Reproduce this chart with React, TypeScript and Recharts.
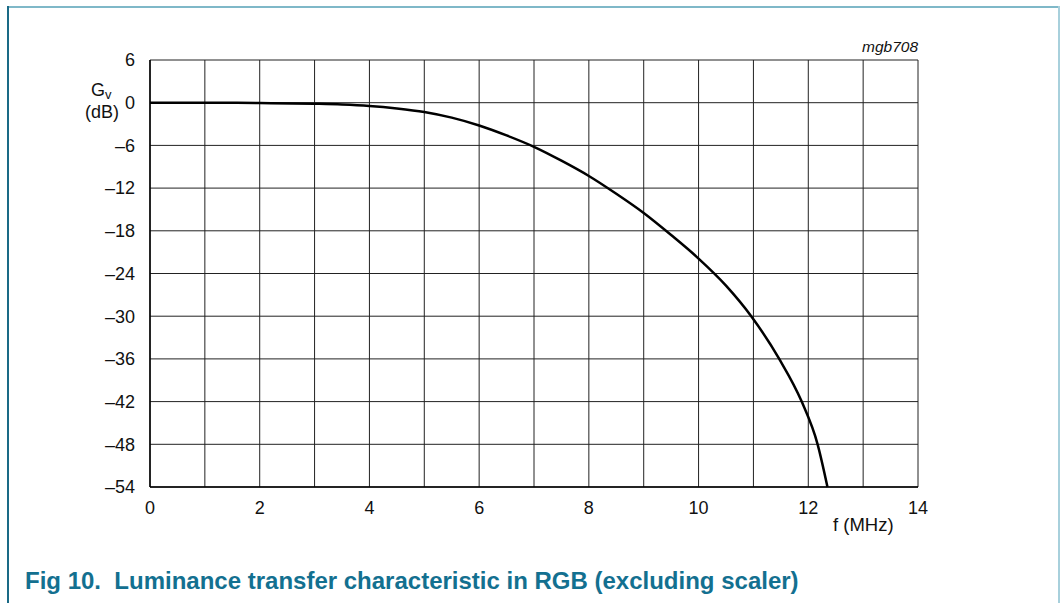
import React from "react";
import { LineChart, Line, XAxis, YAxis, CartesianGrid } from "recharts";

const freqMHz = [0, 1, 2, 3, 3.5, 4, 4.5, 5, 5.5, 6, 6.5, 7, 7.5, 8, 8.5, 9, 9.5, 10, 10.5, 10.96, 11.47, 11.88, 12.17, 12.35];
const gainDb = [0, 0, -0.05, -0.15, -0.25, -0.45, -0.8, -1.3, -2.1, -3.2, -4.6, -6.2, -8.15, -10.3, -12.8, -15.5, -18.6, -21.9, -25.7, -30, -36, -42, -48, -54];
const xTicks = [0, 1, 2, 3, 4, 5, 6, 7, 8, 9, 10, 11, 12, 13, 14];
const yTicks = [-54, -48, -42, -36, -30, -24, -18, -12, -6, 0, 6];

const data = freqMHz.map((f, i) => ({ f, g: gainDb[i] }));

const font = "'Liberation Sans', Arial, sans-serif";

export default function App() {
  return (
    <div style={{ position: "absolute", left: 0, top: 0, width: 1061, height: 603, background: "#fff", fontFamily: font }}>
      {/* figure frame */}
      <div style={{ position: "absolute", left: 7, top: 6, width: 1052, height: 2, background: "#7fb8c8" }} />
      <div style={{ position: "absolute", left: 7, top: 6, width: 2, height: 597, background: "#1a6a86" }} />
      <div style={{ position: "absolute", left: 1058, top: 6, width: 2, height: 597, background: "#a8d0dc" }} />

      <LineChart
        width={1061}
        height={603}
        data={data}
        margin={{ top: 60, right: 143, bottom: 86, left: 90 }}
        style={{ position: "absolute", left: 0, top: 0 }}
      >
        <CartesianGrid stroke="#222" strokeWidth={1} strokeOpacity={1} />
        <XAxis
          dataKey="f"
          type="number"
          domain={[0, 14]}
          ticks={xTicks}
          interval={0}
          height={30}
          tickLine={false}
          axisLine={{ stroke: "#000", strokeWidth: 1.5 }}
          tickMargin={8}
          tick={{ fill: "#111", fontSize: 18, fontFamily: font }}
          tickFormatter={(v: number) => (v % 2 === 0 ? String(v) : "")}
        />
        <YAxis
          type="number"
          domain={[-54, 6]}
          ticks={yTicks}
          interval={0}
          width={60}
          tickLine={false}
          axisLine={{ stroke: "#000", strokeWidth: 1.5 }}
          tickMargin={9}
          tick={{ fill: "#111", fontSize: 18, fontFamily: font }}
          tickFormatter={(v: number) => (v < 0 ? "\u2013" + Math.abs(v) : String(v))}
        />
        <Line
          dataKey="g"
          type="monotone"
          stroke="#000"
          strokeWidth={2.5}
          dot={false}
          isAnimationActive={false}
        />
      </LineChart>

      <div style={{ position: "absolute", left: 91, top: 80, fontSize: 18, color: "#111", lineHeight: "20px" }}>
        G<sub style={{ fontSize: 13, verticalAlign: "-3px" }}>v</sub>
      </div>
      <div style={{ position: "absolute", left: 85, top: 102, fontSize: 18, color: "#111", lineHeight: "20px" }}>(dB)</div>
      <div style={{ position: "absolute", left: 862, top: 38, fontSize: 15.5, fontStyle: "italic", color: "#111" }}>mgb708</div>
      <div style={{ position: "absolute", left: 833, top: 514, fontSize: 18.5, color: "#111" }}>f (MHz)</div>
      <div style={{ position: "absolute", left: 25, top: 567, fontSize: 24, fontWeight: "bold", color: "#137090" }}>
        Fig 10.&nbsp;&nbsp;Luminance transfer characteristic in RGB (excluding scaler)
      </div>
    </div>
  );
}
